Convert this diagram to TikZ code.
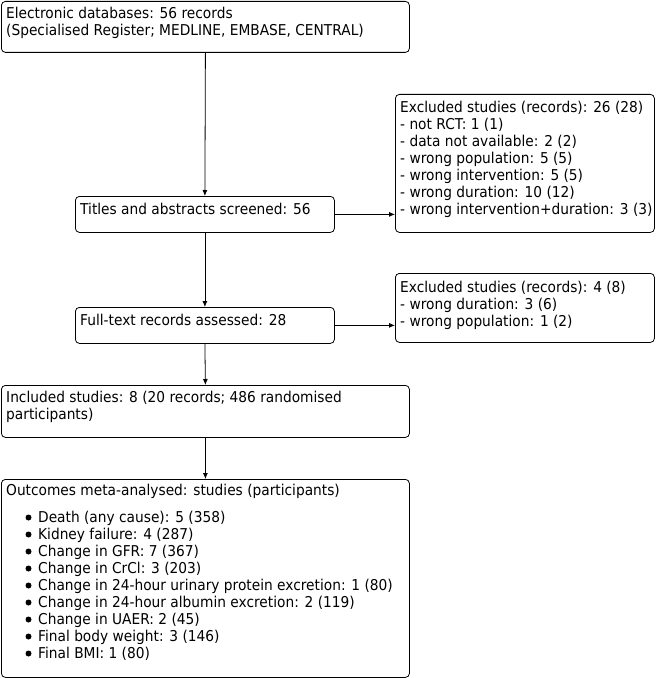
\documentclass[tikz,border=0pt]{standalone}
\usepackage{fontspec}
\setmainfont{DejaVu Sans}[FakeStretch=0.92]
\usetikzlibrary{arrows.meta}
\begin{document}
\begin{tikzpicture}[x=1bp,y=-1bp,
  box/.style={draw, rounded corners=4bp, line width=0.8bp, inner sep=0pt, anchor=north west},
  txt/.style={anchor=base west, inner sep=0pt, font=\fontsize{15}{17}\selectfont},
  arr/.style={-{Latex[length=6bp,width=5bp]}, line width=0.8bp},
  dot/.style={circle, fill, inner sep=0pt, minimum size=6bp}]
\useasboundingbox (0,0) rectangle (657,678);
% boxes
\node[box, minimum width=408bp, minimum height=51bp] (db) at (1,1) {};
\node[box, minimum width=259bp, minimum height=36bp] (ta) at (75,196) {};
\node[box, minimum width=259bp, minimum height=36bp] (ft) at (75,307) {};
\node[box, minimum width=259bp, minimum height=138bp] (ex1) at (395,94) {};
\node[box, minimum width=259bp, minimum height=69bp] (ex2) at (395,273) {};
\node[box, minimum width=408bp, minimum height=52bp] (inc) at (1,385) {};
\node[box, minimum width=408bp, minimum height=198bp] (out) at (1,479) {};
% texts
\node[txt] (t1) at (6,18.5) {Electronic databases: 56 records};
\node[txt] (t2) at (6,35.5) {(Specialised Register; MEDLINE, EMBASE, CENTRAL)};
\node[txt] (t3) at (80,214) {Titles and abstracts screened: 56};
\node[txt] (t4) at (80,325) {Full-text records assessed: 28};
\node[txt] (e1) at (400,112.5) {Excluded studies (records): 26 (28)};
\node[txt] (e2) at (400,129.5) {- not RCT: 1 (1)};
\node[txt] (e3) at (400,146.5) {- data not available: 2 (2)};
\node[txt] (e4) at (400,163.5) {- wrong population: 5 (5)};
\node[txt] (e5) at (400,180.5) {- wrong intervention: 5 (5)};
\node[txt] (e6) at (400,197.5) {- wrong duration: 10 (12)};
\node[txt] (e7) at (400,214.5) {- wrong intervention+duration: 3 (3)};
\node[txt] (f1) at (400,292.5) {Excluded studies (records): 4 (8)};
\node[txt] (f2) at (400,309.5) {- wrong duration: 3 (6)};
\node[txt] (f3) at (400,326.5) {- wrong population: 1 (2)};
\node[txt] (i1) at (6,402) {Included studies: 8 (20 records; 486 randomised};
\node[txt] (i2) at (6,419) {participants)};
\node[txt] (o) at (6,495) {Outcomes meta-analysed: studies (participants)};
\foreach \t [count=\k from 0] in {Death (any cause): 5 (358),Kidney failure: 4 (287),Change in GFR: 7 (367),Change in CrCl: 3 (203),Change in 24-hour urinary protein excretion: 1 (80),Change in 24-hour albumin excretion: 2 (119),Change in UAER: 2 (45),Final body weight: 3 (146),Final BMI: 1 (80)}
  {\node[txt] (o\k) at (38,522+17*\k) {\t};
   \node[dot] (d\k) at (28.5,517.5+17*\k) {};}
% connectors
\draw[arr] (db.south) -- (ta.north);
\draw[arr] (ta.south) -- (ft.north);
\draw[arr] (ft.south) -- (inc.north);
\draw[arr] (inc.south) -- (out.north);
\draw[arr] (ta.east) -- (ta.east -| ex1.west);
\draw[arr] (ft.east) -- (ft.east -| ex2.west);
\end{tikzpicture}
\end{document}
